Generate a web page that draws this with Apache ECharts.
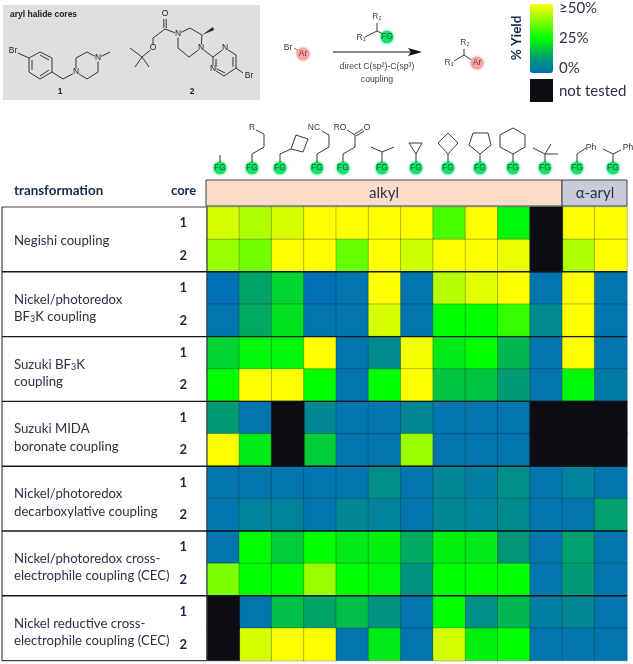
<!DOCTYPE html>
<html>
<head>
<meta charset="utf-8">
<style>html,body{margin:0;padding:0;background:#fff}#chart{width:633px;height:664px}</style>
<script src="https://cdn.jsdelivr.net/npm/echarts@6/dist/echarts.min.js"></script>
</head>
<body>
<div id="chart"></div>
<script>
// fragment columns, left to right
const fragments = ['methyl', 'alkyl chain', 'cyclobutylethyl', 'cyanopropyl', 'ester', 'isopropyl', 'cyclopropyl',
    'cyclobutyl', 'cyclopentyl', 'cyclohexyl', 'tert-butyl', 'benzyl', 'benzhydryl-like'];
const coreLabels = ['1', '2', '1', '2', '1', '2', '1', '2', '1', '2', '1', '2', '1', '2'];
const transformations = ['Negishi coupling', 'Nickel/photoredox\nBF3K coupling', 'Suzuki BF3K\ncoupling',
    'Suzuki MIDA\nboronate coupling', 'Nickel/photoredox\ndecarboxylative coupling',
    'Nickel/photoredox cross-\nelectrophile coupling (CEC)', 'Nickel reductive cross-\nelectrophile coupling (CEC)'];

// % yield per row, null = not tested
const negishi1 = [46, 42, 46, 50, 50, 50, 50, 32, 50, 24, null, 50, 50];
const negishi2 = [40, 36, 50, 50, 35, 50, 45, 50, 50, 48, null, 42, 50];
const bf3k1 = [0, 12, 19, 0, 1, 50, 1, 43, 47, 50, 1, 50, 1];
const bf3k2 = [1, 13, 21, 1, 1, 46, 1, 25, 25, 30, 6, 50, 1];
const suzuki1 = [19, 24, 24, 50, 1, 6, 49, 22, 25, 15, 1, 50, 1];
const suzuki2 = [25, 50, 50, 25, 1, 25, 50, 17, 17, 10, 1, 24, 2];
const mida1 = [10, 1, null, 5, 1, 1, 5, 1, 1, 1, null, null, null];
const mida2 = [50, 22, null, 18, 1, 1, 40, 1, 1, 1, null, null, null];
const decarb1 = [1, 1, 1, 1, 1, 7, 1, 5, 3, 7, 1, 4, 1];
const decarb2 = [1, 4, 4, 1, 5, 4, 1, 5, 4, 6, 1, 1, 11];
const photoCec1 = [1, 25, 18, 25, 22, 23, 13, 23, 22, 9, 1, 11, 1];
const photoCec2 = [37, 25, 25, 40, 25, 24, 8, 25, 25, 25, 1, 10, 1];
const reductive1 = [null, 1, 16, 12, 16, 8, 1, 25, 7, 15, 3, 5, 1];
const reductive2 = [null, 46, 50, 50, 1, 22, 1, 46, 23, 25, 1, 1, 1];

const rows = [negishi1, negishi2, bf3k1, bf3k2, suzuki1, suzuki2, mida1, mida2,
    decarb1, decarb2, photoCec1, photoCec2, reductive1, reductive2];

const yieldCells = [];
const notTestedCells = [];
rows.forEach((row, y) => row.forEach((v, x) => {
    if (v === null) notTestedCells.push([x, y, 1]);
    else yieldCells.push([x, y, v]);
}));

const NAVY = '#14284b';
const TEXT = '#2a3245';
const gridLeft = 207, gridTop = 207, gridWidth = 420, gridHeight = 453.6;
const g = [];

function bond(points, width) {
    g.push({ type: 'polyline', z: 50, shape: { points: points }, style: { stroke: '#222', fill: null, lineWidth: width || 0.9 } });
}
function label(x, y, text, font, color, align) {
    g.push({ type: 'text', z: 51, x: x, y: y, style: { text: text, font: font || '8.5px "Liberation Sans"', fill: color || '#333', align: align || 'center', verticalAlign: 'middle' } });
}
function atom(x, y, text) {
    g.push({ type: 'circle', z: 50, shape: { cx: x, cy: y, r: 3.6 }, style: { fill: '#dfdfdf' } });
    label(x, y, text, '8.5px "Liberation Sans"', '#222');
}
function fg(x, y) {
    g.push({ type: 'circle', z: 50, shape: { cx: x, cy: y, r: 6.3 }, style: { fill: '#17e36c', shadowColor: '#17e36c', shadowBlur: 3 } });
    label(x, y, 'FG', '8.5px "Liberation Sans"', '#0f5c32');
}
function ar(x, y) {
    g.push({ type: 'circle', z: 50, shape: { cx: x, cy: y, r: 6.5 }, style: { fill: '#f6a5a5', shadowColor: '#f6a5a5', shadowBlur: 3 } });
    label(x, y, 'Ar', '8.5px "Liberation Sans"', '#7a3030');
}

// aryl halide panel
g.push({ type: 'rect', z: 40, shape: { x: 3, y: 5, width: 257, height: 95 }, style: { fill: '#dfdfdf' } });
label(10, 15, 'aryl halide cores', 'bold 8.5px "Liberation Sans"', '#222', 'left');
bond([[18, 53], [29, 58]]);
bond([[29, 58], [40, 52], [52, 58], [52, 72], [40, 79], [29, 72], [29, 58]]);
bond([[32, 60], [32, 70]]); bond([[49, 60], [40, 55]]); bond([[49, 70], [40, 76]]);
bond([[52, 72], [63, 79], [76, 72]]);
bond([[76, 72], [76, 58], [87, 52], [98, 58], [98, 72], [87, 79], [76, 72]]);
bond([[98, 58], [110, 52]]);
atom(76, 72, 'N'); atom(98, 58, 'N'); label(13, 51, 'Br', '8.5px "Liberation Sans"', '#222');
label(60, 92, '1', 'bold 8.5px "Liberation Sans"', '#222');
bond([[163.8, 19], [163.8, 28]]); bond([[166.2, 19], [166.2, 28]]);
bond([[178, 34], [165, 29], [153, 38], [153, 48], [142, 57], [130, 48]]);
bond([[142, 57], [135, 67]]); bond([[142, 57], [149, 67]]);
bond([[178, 34], [190, 28], [202, 35], [201, 48], [189, 57], [178, 48], [178, 34]]);
g.push({ type: 'polygon', z: 50, shape: { points: [[202, 35], [213, 27], [214, 30]] }, style: { fill: '#222' } });
bond([[201, 48], [213, 57], [225, 48], [236, 55], [236, 68], [224, 76], [213, 69], [213, 57]]);
bond([[216, 59], [216, 67]]); bond([[233, 57], [233, 67]]); bond([[225, 73], [215, 68]]);
bond([[236, 68], [243, 73]]);
atom(165, 14, 'O'); atom(153, 48, 'O'); atom(178, 34, 'N'); atom(201, 48, 'N');
atom(225, 48, 'N'); atom(213, 69, 'N'); label(249, 76, 'Br', '8.5px "Liberation Sans"', '#222');
label(192, 92, '2', 'bold 8.5px "Liberation Sans"', '#222');

// reaction scheme
label(288, 48, 'Br', '8.5px "Liberation Sans"', '#333');
bond([[294, 48], [300, 52]], 0.7);
ar(303, 54);
bond([[365, 37], [377, 31], [387, 36]]); bond([[377, 31], [377, 23]]);
label(377, 17, 'R₂', '8.5px "Liberation Sans"', '#444'); label(361, 38, 'R₁', '8.5px "Liberation Sans"', '#444');
fg(387, 37);
g.push({ type: 'line', z: 50, shape: { x1: 333, y1: 52, x2: 415, y2: 52 }, style: { stroke: '#111', lineWidth: 1 } });
g.push({ type: 'polygon', z: 50, shape: { points: [[422, 52], [408, 48], [411, 52], [408, 56]] }, style: { fill: '#111' } });
label(377, 67, 'direct C(sp²)-C(sp³)', '8.7px "Liberation Sans"', '#444');
label(377, 80, 'coupling', '8.7px "Liberation Sans"', '#444');
bond([[454, 61], [464, 55], [473, 61]]); bond([[464, 55], [464, 49]]);
label(465, 43, 'R₂', '8.5px "Liberation Sans"', '#444'); label(449, 63, 'R₁', '8.5px "Liberation Sans"', '#444');
ar(477, 63);

// colour key labels
g.push({ type: 'text', z: 51, x: 517, y: 38, rotation: Math.PI / 2, originX: 0, originY: 0,
    style: { text: '% Yield', font: 'bold 13.5px Lato', fill: NAVY, align: 'center', verticalAlign: 'middle' } });
g.push({ type: 'rect', z: 50, shape: { x: 530, y: 79, width: 23, height: 23 }, style: { fill: '#0c0e14' } });
['≥50%', '25%', '0%', 'not tested'].forEach((t, i) => {
    label(559, [8, 38, 68, 91][i], t, '15px Lato', TEXT, 'left');
});

// fragment header
[220, 252, 280, 317, 343, 382, 416, 448, 480, 513, 545, 577, 613].forEach(x => fg(x, 168));
bond([[220, 162], [220, 155]]);
bond([[252, 162], [252, 154], [264, 147], [264, 134], [256, 130]]); label(252, 128, 'R');
bond([[280, 162], [280, 154], [291, 149]]);
bond([[291, 149], [296, 135], [308, 139], [303, 152], [291, 149]]);
bond([[317, 162], [317, 154], [329, 147], [329, 135], [322, 131]]); label(314, 128, 'NC');
bond([[343, 162], [343, 154], [355, 147], [355, 135], [347, 130]]); label(340, 128, 'RO');
bond([[355, 134], [363, 129]]); bond([[356, 136], [364, 131]]); label(367, 128, 'O');
bond([[382, 162], [382, 152], [371, 147]]); bond([[382, 152], [394, 147]]);
bond([[416, 162], [416, 154]]); bond([[416, 154], [409, 143], [422, 143], [416, 154]]);
bond([[448, 162], [448, 154]]); bond([[448, 154], [458, 143], [448, 133], [438, 143], [448, 154]]);
bond([[480, 162], [480, 154]]); bond([[480, 154], [491, 145], [488, 133], [473, 133], [469, 145], [480, 154]]);
bond([[513, 162], [513, 154]]); bond([[513, 154], [525, 147], [525, 135], [513, 128], [500, 135], [500, 147], [513, 154]]);
bond([[545, 162], [545, 154], [533, 148]]); bond([[545, 154], [551, 144]]); bond([[545, 154], [558, 154]]);
bond([[577, 162], [577, 154], [586, 148]]); label(591, 148, 'Ph');
bond([[613, 162], [613, 154], [603, 149]]); bond([[613, 154], [621, 150]]); label(628, 148, 'Ph');

// group bars above the heatmap
g.push({ type: 'rect', z: 40, shape: { x: 206, y: 180, width: 356, height: 26 }, style: { fill: '#fbdcc8', stroke: '#3d4250', lineWidth: 1 } });
g.push({ type: 'rect', z: 40, shape: { x: 562, y: 180, width: 65, height: 26 }, style: { fill: '#c8ccd8', stroke: '#3d4250', lineWidth: 1 } });
label(384, 193, 'alkyl', '15px Lato', TEXT);
label(595, 193, 'α-aryl', '15px Lato', TEXT);
label(14, 191, 'transformation', 'bold 13.4px Lato', NAVY, 'left');
label(171, 191, 'core', 'bold 13px Lato', NAVY, 'left');

// left table frame, separators and transformation names
const rowH = gridHeight / rows.length;
g.push({ type: 'rect', z: 45, shape: { x: 2, y: gridTop, width: gridLeft - 2, height: gridHeight }, style: { fill: null, stroke: '#3d4250', lineWidth: 1.2 } });
transformations.forEach((name, i) => {
    const y0 = gridTop + i * 2 * rowH;
    if (i > 0) {
        g.push({ type: 'line', z: 45, shape: { x1: 2, y1: y0, x2: gridLeft + gridWidth, y2: y0 }, style: { stroke: '#15181f', lineWidth: 1.4 } });
    }
    const lines = name.split('\n');
    lines.forEach((line, j) => {
        const ty = y0 + rowH + (j - (lines.length - 1) / 2) * 17.3 + (lines.length > 1 ? 4 : 1);
        if (line.includes('BF3K')) {
            const parts = line.split('3');
            g.push({ type: 'text', z: 51, x: 14, y: ty, style: {
                text: '{a|' + parts[0] + '}{s|3}{a|' + parts[1] + '}', align: 'left', verticalAlign: 'middle',
                rich: { a: { font: '13.2px Lato', fill: TEXT }, s: { font: '9px Lato', fill: TEXT, verticalAlign: 'bottom', padding: [5, 0, 0, 0] } }
            } });
        } else {
            label(14, ty, line, '13.2px Lato', TEXT, 'left');
        }
    });
});

const chart = echarts.init(document.getElementById('chart'));
chart.setOption({
    animation: false,
    backgroundColor: '#fff',
    grid: { left: gridLeft, top: gridTop, width: gridWidth, height: gridHeight },
    xAxis: { type: 'category', data: fragments, position: 'top', axisLabel: { show: false }, axisTick: { show: false }, axisLine: { show: false }, splitLine: { show: false } },
    yAxis: {
        type: 'category', data: coreLabels, inverse: true,
        axisLine: { show: false }, axisTick: { show: false }, splitLine: { show: false },
        axisLabel: { interval: 0, margin: 20, fontFamily: 'Lato', fontWeight: 'bold', fontSize: 13, color: NAVY }
    },
    visualMap: {
        type: 'continuous', min: 0, max: 50, seriesIndex: 0, calculable: false,
        left: 530, top: 4, itemWidth: 23, itemHeight: 69, text: null, padding: 0,
        inRange: { color: ['#0071b4', '#00a564', '#00ff00', '#80ff00', '#ffff00'] }
    },
    series: [
        { name: '% Yield', type: 'heatmap', data: yieldCells, itemStyle: { borderColor: 'rgba(10,30,30,0.35)', borderWidth: 0.8 } },
        { name: 'not tested', type: 'heatmap', data: notTestedCells, itemStyle: { color: '#0c0e14', borderColor: '#0c0e14', borderWidth: 0.5 } }
    ],
    graphic: { elements: g }
});
</script>
</body>
</html>
